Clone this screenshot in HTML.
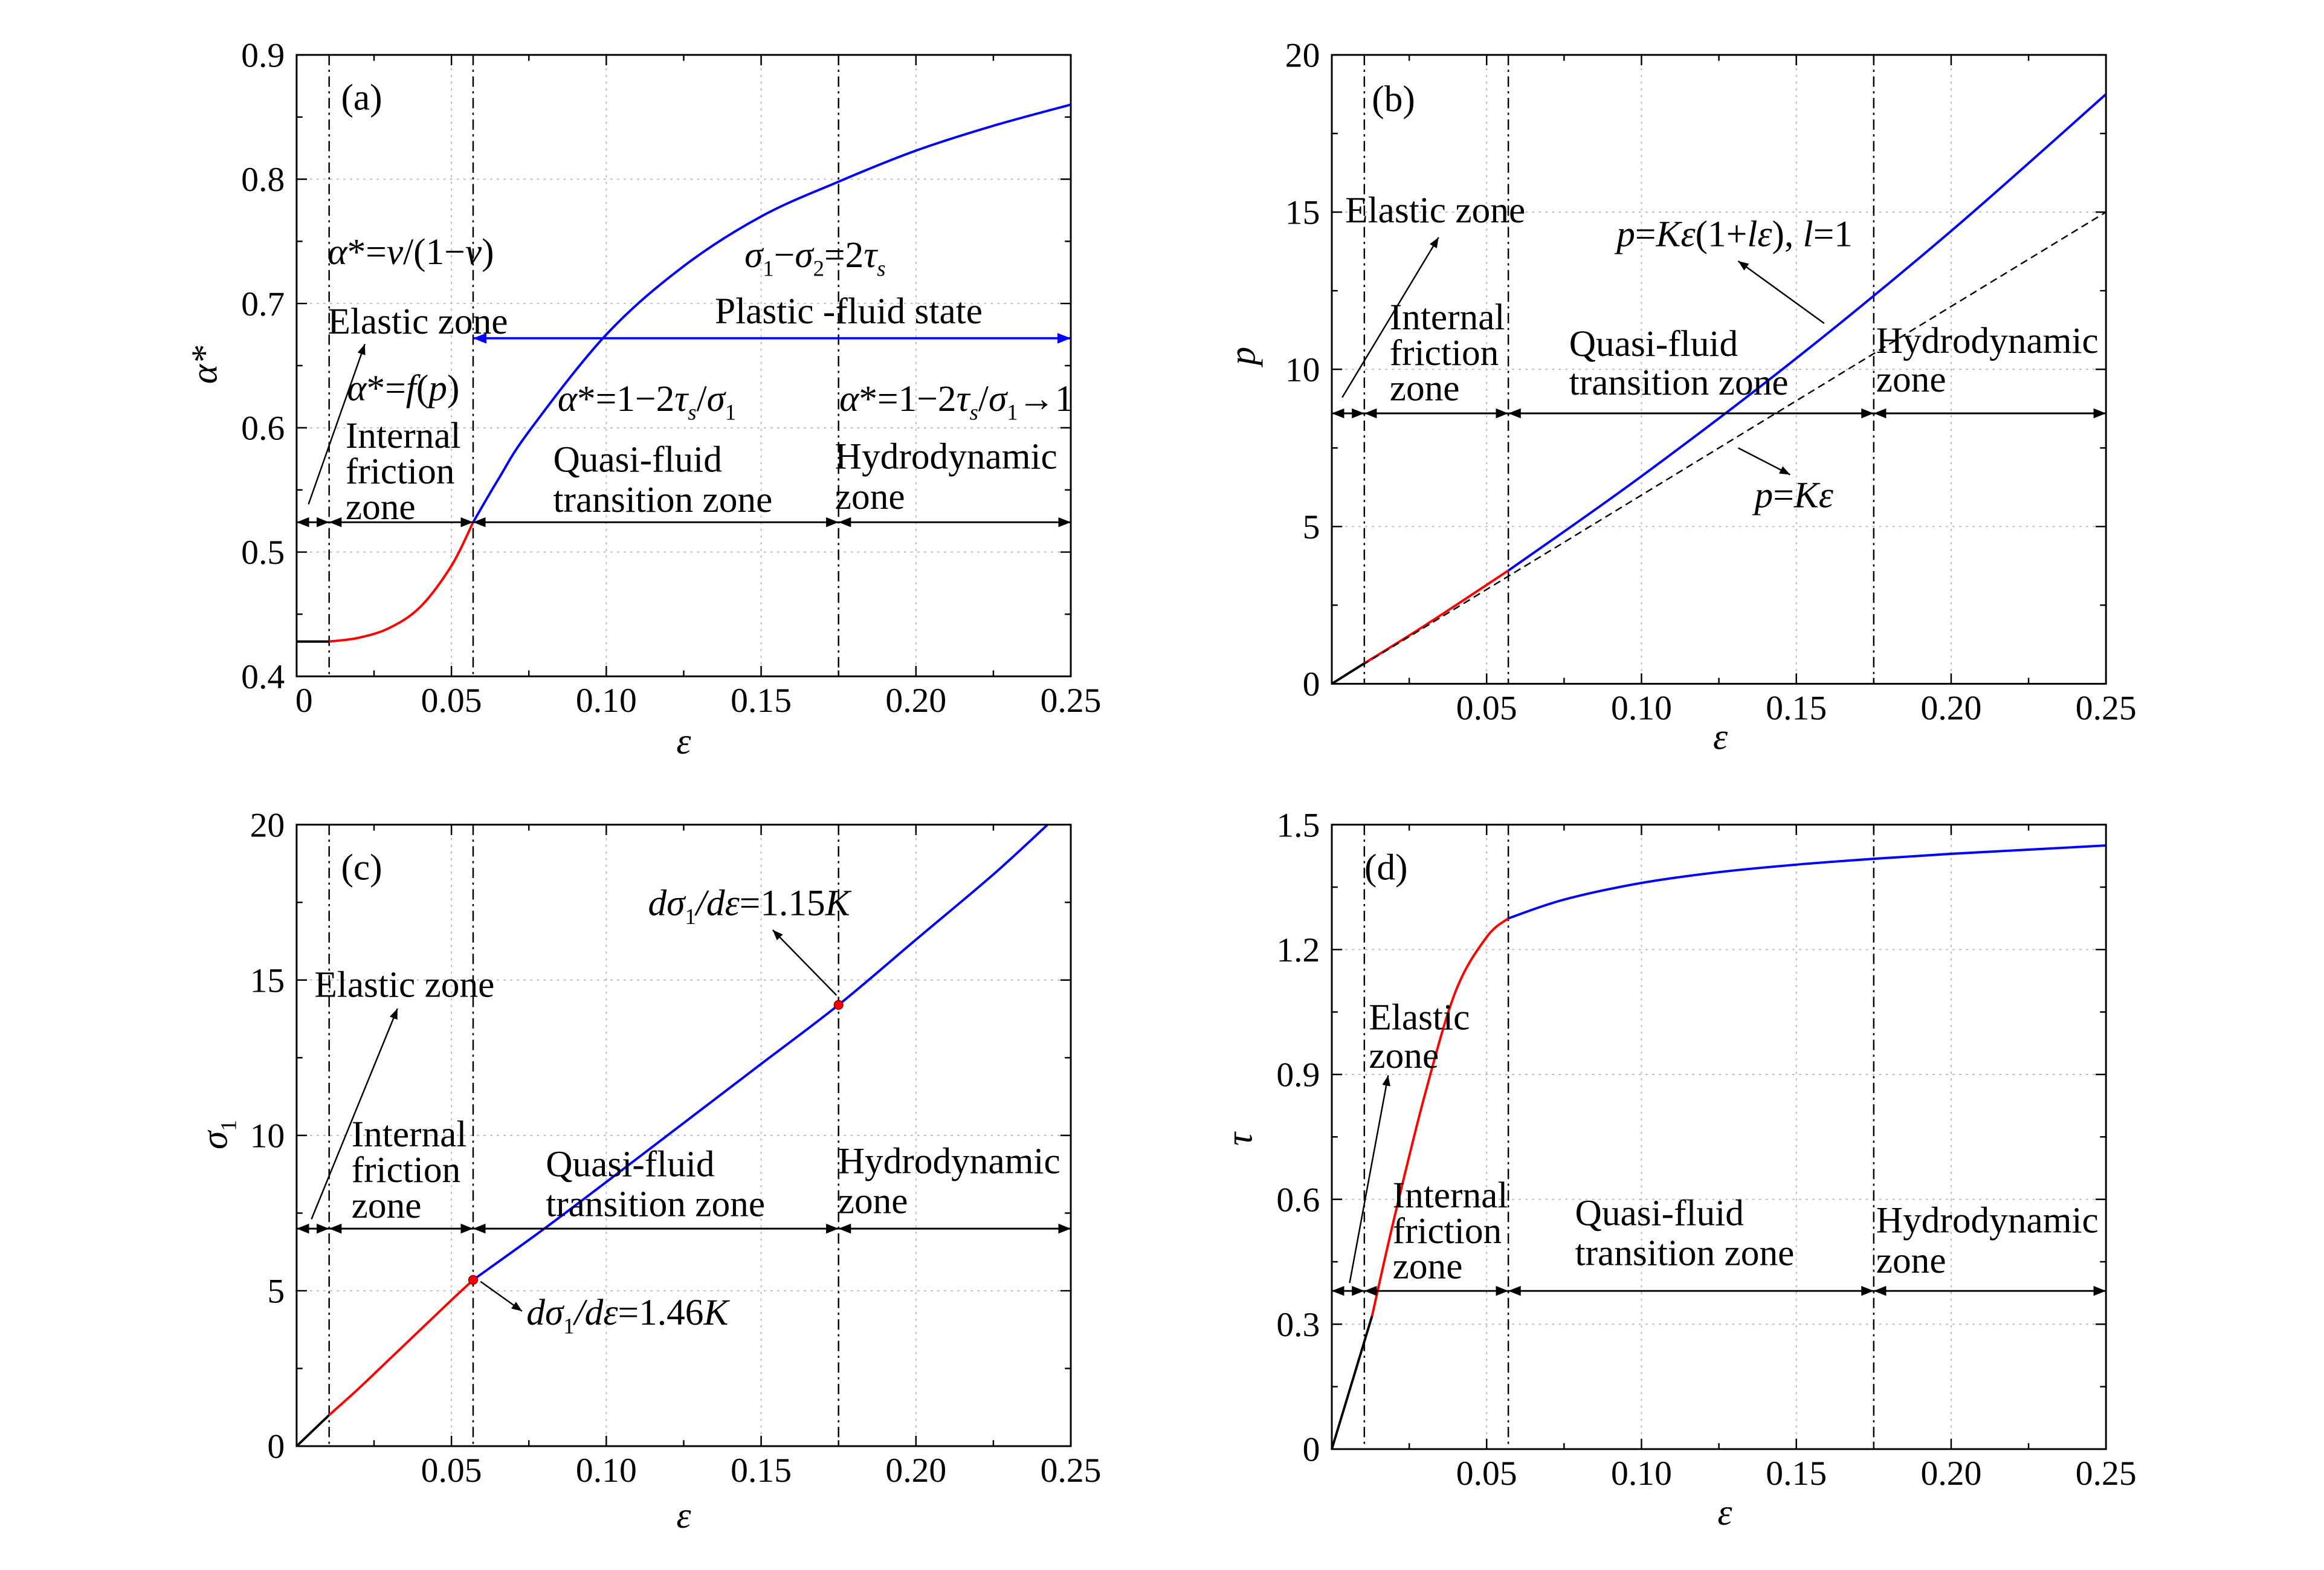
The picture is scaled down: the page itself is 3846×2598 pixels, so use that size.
<!DOCTYPE html>
<html><head><meta charset="utf-8"><style>
html,body{margin:0;padding:0;background:#fff}
svg{display:block}
text{font-family:"Liberation Serif",serif;fill:#000}
.t{font-size:23.5px}
.a{font-size:25px}
.i{font-style:italic}
</style></head><body>
<svg id="fig" width="3846" height="2598" viewBox="0 0 1567 1058.5" xmlns="http://www.w3.org/2000/svg">
<defs>
<marker id="ah" viewBox="0 0 10 10" refX="10" refY="5" markerWidth="7" markerHeight="7" orient="auto-start-reverse"><path d="M0,1 L10,5 L0,9 z" fill="#000"/></marker>
<marker id="ahb" viewBox="0 0 10 10" refX="10" refY="5" markerWidth="6" markerHeight="6" orient="auto-start-reverse"><path d="M0,1 L10,5 L0,9 z" fill="#0000ff"/></marker>
</defs>
<g id="plots"></g>
<g id="ann">
<!-- panel a -->
<text class="a" x="230" y="74">(a)</text>
<text class="a" x="221" y="178"><tspan class="i">α</tspan>*=<tspan class="i">ν</tspan>/(1−<tspan class="i">ν</tspan>)</text>
<text class="a" x="502" y="180"><tspan class="i">σ</tspan><tspan font-size="15" dy="6">1</tspan><tspan dy="-6">−</tspan><tspan class="i">σ</tspan><tspan font-size="15" dy="6">2</tspan><tspan dy="-6">=2</tspan><tspan class="i">τ</tspan><tspan font-size="15" dy="6" class="i">s</tspan></text>
<text class="a" x="221" y="225">Elastic zone</text>
<text class="a" x="482" y="218">Plastic -fluid state</text>
<text class="a" x="234" y="270"><tspan class="i">α</tspan>*=<tspan class="i">f</tspan>(<tspan class="i">p</tspan>)</text>
<text class="a" x="376" y="277"><tspan class="i">α</tspan>*=1−2<tspan class="i">τ</tspan><tspan font-size="15" dy="6" class="i">s</tspan><tspan dy="-6">/</tspan><tspan class="i">σ</tspan><tspan font-size="15" dy="6">1</tspan></text>
<text class="a" x="566" y="277"><tspan class="i">α</tspan>*=1−2<tspan class="i">τ</tspan><tspan font-size="15" dy="6" class="i">s</tspan><tspan dy="-6">/</tspan><tspan class="i">σ</tspan><tspan font-size="15" dy="6">1</tspan><tspan dy="-6">→1</tspan></text>
<text class="a" x="233" y="302">Internal<tspan x="233" dy="24">friction</tspan><tspan x="233" dy="24">zone</tspan></text>
<text class="a" x="373" y="318">Quasi-fluid<tspan x="373" dy="27">transition zone</tspan></text>
<text class="a" x="563" y="316">Hydrodynamic<tspan x="563" dy="27">zone</tspan></text>
<line x1="208" y1="340" x2="246" y2="232" stroke="#000" stroke-width="1" marker-end="url(#ah)"/>
<!-- panel b -->
<text class="a" x="925" y="75">(b)</text>
<text class="a" x="907" y="150">Elastic zone</text>
<text class="a" x="1090" y="166"><tspan class="i">p</tspan>=<tspan class="i">Kε</tspan>(1+<tspan class="i">lε</tspan>), <tspan class="i">l</tspan>=1</text>
<text class="a" x="937" y="222">Internal<tspan x="937" dy="24">friction</tspan><tspan x="937" dy="24">zone</tspan></text>
<text class="a" x="1058" y="240">Quasi-fluid<tspan x="1058" dy="26">transition zone</tspan></text>
<text class="a" x="1265" y="238">Hydrodynamic<tspan x="1265" dy="26">zone</tspan></text>
<text class="a" x="1183" y="342"><tspan class="i">p</tspan>=<tspan class="i">Kε</tspan></text>
<line x1="905" y1="268" x2="970" y2="160" stroke="#000" stroke-width="1" marker-end="url(#ah)"/>
<line x1="1230" y1="218" x2="1172" y2="176" stroke="#000" stroke-width="1" marker-end="url(#ah)"/>
<line x1="1172" y1="302" x2="1207" y2="320" stroke="#000" stroke-width="1" marker-end="url(#ah)"/>
<!-- panel c -->
<text class="a" x="230" y="593">(c)</text>
<text class="a" x="212" y="672">Elastic zone</text>
<text class="a" x="437" y="617"><tspan class="i">dσ</tspan><tspan font-size="15" dy="6">1</tspan><tspan dy="-6" class="i">/dε</tspan>=1.15<tspan class="i">K</tspan></text>
<text class="a" x="237" y="773">Internal<tspan x="237" dy="24">friction</tspan><tspan x="237" dy="24">zone</tspan></text>
<text class="a" x="368" y="793">Quasi-fluid<tspan x="368" dy="27">transition zone</tspan></text>
<text class="a" x="565" y="791">Hydrodynamic<tspan x="565" dy="27">zone</tspan></text>
<text class="a" x="355" y="893"><tspan class="i">dσ</tspan><tspan font-size="15" dy="6">1</tspan><tspan dy="-6" class="i">/dε</tspan>=1.46<tspan class="i">K</tspan></text>
<line x1="210" y1="822" x2="268" y2="680" stroke="#000" stroke-width="1" marker-end="url(#ah)"/>
<line x1="564" y1="671" x2="521" y2="627" stroke="#000" stroke-width="1" marker-end="url(#ah)"/>
<line x1="324" y1="864" x2="352" y2="884" stroke="#000" stroke-width="1" marker-end="url(#ah)"/>
<!-- panel d -->
<text class="a" x="920" y="593">(d)</text>
<text class="a" x="923" y="694">Elastic<tspan x="923" dy="26">zone</tspan></text>
<text class="a" x="939" y="814">Internal<tspan x="939" dy="24">friction</tspan><tspan x="939" dy="24">zone</tspan></text>
<text class="a" x="1062" y="826">Quasi-fluid<tspan x="1062" dy="27">transition zone</tspan></text>
<text class="a" x="1265" y="831">Hydrodynamic<tspan x="1265" dy="27">zone</tspan></text>
<line x1="910" y1="865" x2="936" y2="725" stroke="#000" stroke-width="1" marker-end="url(#ah)"/>
<!-- axis titles -->
<text class="a i" x="461" y="508" text-anchor="middle">ε</text>
<text class="a i" x="1160" y="505" text-anchor="middle">ε</text>
<text class="a i" x="461" y="1030" text-anchor="middle">ε</text>
<text class="a i" x="1163" y="1028" text-anchor="middle">ε</text>
<text class="a i" transform="translate(146,246) rotate(-90)" text-anchor="middle">α*</text>
<text class="a i" transform="translate(846,240) rotate(-90)" text-anchor="middle">p</text>
<text class="a" transform="translate(153,765) rotate(-90)" text-anchor="middle"><tspan class="i">σ</tspan><tspan font-size="15" dy="6">1</tspan></text>
<text class="a i" transform="translate(844,768) rotate(-90)" text-anchor="middle">τ</text>
</g>
</svg>
<script>
// ---- data ----
const zoneBounds = [0.0105, 0.057, 0.175];
const aBlackX = [0, 0.0105], aBlackY = [0.428, 0.428];
const aRedX = [0.0105, 0.02, 0.03, 0.04, 0.05, 0.057];
const aRedY = [0.428, 0.431, 0.439, 0.456, 0.489, 0.524];
const aBlueX = [0.057, 0.065, 0.075, 0.10, 0.125, 0.15, 0.175, 0.20, 0.225, 0.25];
const aBlueY = [0.524, 0.558, 0.597, 0.675, 0.73, 0.77, 0.798, 0.823, 0.843, 0.86];
const bBlackX = [0, 0.0105], bBlackY = [0, 0.65];
const bRedX = [0.0105, 0.03, 0.057], bRedY = [0.65, 1.85, 3.6];
const bBlueX = [0.057, 0.10, 0.15, 0.20, 0.25], bBlueY = [3.6, 6.6, 10.35, 14.4, 18.75];
const bDashX = [0, 0.25], bDashY = [0, 15];
const cBlackX = [0, 0.0105], cBlackY = [0, 1.0];
const cRedX = [0.0105, 0.02, 0.03, 0.04, 0.05, 0.057], cRedY = [1.0, 1.85, 2.8, 3.75, 4.7, 5.35];
const cBlueX = [0.057, 0.08, 0.10, 0.125, 0.15, 0.175, 0.20, 0.225, 0.2425];
const cBlueY = [5.35, 7.0, 8.5, 10.4, 12.3, 14.2, 16.3, 18.4, 20];
const cDotX = [0.057, 0.175], cDotY = [5.35, 14.2];
const dBlackX = [0, 0.013], dBlackY = [0, 0.32];
const dRedX = [0.013, 0.02, 0.03, 0.04, 0.05, 0.057], dRedY = [0.32, 0.55, 0.85, 1.1, 1.23, 1.275];
const dBlueX = [0.057, 0.075, 0.10, 0.125, 0.15, 0.175, 0.20, 0.225, 0.25];
const dBlueY = [1.275, 1.32, 1.36, 1.386, 1.404, 1.418, 1.43, 1.44, 1.45];
const xTicksA = [0, 0.05, 0.10, 0.15, 0.20, 0.25], xLabelsA = ["0","0.05","0.10","0.15","0.20","0.25"];
const xTicksB = [0.05, 0.10, 0.15, 0.20, 0.25], xLabelsB = ["0.05","0.10","0.15","0.20","0.25"];
const yTicksA = [0.4,0.5,0.6,0.7,0.8,0.9], yLabelsA = ["0.4","0.5","0.6","0.7","0.8","0.9"];
const yTicksB = [0,5,10,15,20], yLabelsB = ["0","5","10","15","20"];
const yTicksD = [0,0.3,0.6,0.9,1.2,1.5], yLabelsD = ["0","0.3","0.6","0.9","1.2","1.5"];

const NS = "http://www.w3.org/2000/svg";
const root = document.getElementById("plots");
function mk(tag, at, parent) {
  const e = document.createElementNS(NS, tag);
  for (const k in at) e.setAttribute(k, at[k]);
  (parent || root).appendChild(e);
  return e;
}
function smooth(pts) {
  let d = "M" + pts[0][0].toFixed(2) + "," + pts[0][1].toFixed(2);
  for (let i = 0; i < pts.length - 1; i++) {
    const p0 = pts[i-1] || pts[i], p1 = pts[i], p2 = pts[i+1], p3 = pts[i+2] || p2;
    const c1 = [p1[0] + (p2[0]-p0[0])/6, p1[1] + (p2[1]-p0[1])/6];
    const c2 = [p2[0] - (p3[0]-p1[0])/6, p2[1] - (p3[1]-p1[1])/6];
    d += "C" + c1.map(v=>v.toFixed(2)).join(",") + " " + c2.map(v=>v.toFixed(2)).join(",") + " " + p2[0].toFixed(2) + "," + p2[1].toFixed(2);
  }
  return d;
}
const panels = [
 {id:"a", L:200, R:722, T:37, B:456, ymin:0.4, ymax:0.9, xt:xTicksA, xl:xLabelsA, yt:yTicksA, yl:yLabelsA, arrowY:0.524,
  series:[[aBlackX,aBlackY,"#000"],[aRedX,aRedY,"#ff0000"],[aBlueX,aBlueY,"#0000ff"]]},
 {id:"b", L:898, R:1420, T:37, B:461, ymin:0, ymax:20, xt:xTicksB, xl:xLabelsB, yt:yTicksB, yl:yLabelsB, arrowY:8.6,
  series:[[bBlackX,bBlackY,"#000"],[bRedX,bRedY,"#ff0000"],[bBlueX,bBlueY,"#0000ff"]]},
 {id:"c", L:200, R:722, T:556, B:975, ymin:0, ymax:20, xt:xTicksB, xl:xLabelsB, yt:yTicksB, yl:yLabelsB, arrowY:7.0,
  series:[[cBlackX,cBlackY,"#000"],[cRedX,cRedY,"#ff0000"],[cBlueX,cBlueY,"#0000ff"]]},
 {id:"d", L:898, R:1420, T:556, B:977, ymin:0, ymax:1.5, xt:xTicksB, xl:xLabelsB, yt:yTicksD, yl:yLabelsD, arrowY:0.38,
  series:[[dBlackX,dBlackY,"#000"],[dRedX,dRedY,"#ff0000"],[dBlueX,dBlueY,"#0000ff"]]}
];
panels.forEach(p => {
  const sx = v => p.L + (v / 0.25) * (p.R - p.L);
  const sy = v => p.B - (v - p.ymin) / (p.ymax - p.ymin) * (p.B - p.T);
  const g = mk("g", {});
  
  
  const ystep = p.yt[1] - p.yt[0];
  p.xt.forEach(v => { if (v>0 && v<0.25) mk("line",{x1:sx(v),x2:sx(v),y1:p.T,y2:p.B,stroke:"#bbb","stroke-width":0.8,"stroke-dasharray":"1.5 3"},g); });
  p.yt.forEach(v => { if (v>p.ymin && v<p.ymax) mk("line",{x1:p.L,x2:p.R,y1:sy(v),y2:sy(v),stroke:"#bbb","stroke-width":0.8,"stroke-dasharray":"1.5 3"},g); });
  zoneBounds.forEach(v => {
    const z = mk("line",{x1:sx(v),x2:sx(v),y1:p.T,y2:p.B,stroke:"#000","stroke-width":1,"stroke-dasharray":"7 3 1.5 3"},g);
    
    
  });
  p.series.forEach(s => {
    const pts = s[0].map((x,i)=>[sx(x), sy(s[1][i])]);
    const e = mk("path",{d:smooth(pts),fill:"none",stroke:s[2],"stroke-width":1.6},g);
    
    
  });
  if (p.id==="b") {
    const d = bDashX.map((x,i)=>(i?"L":"M")+sx(x)+","+sy(bDashY[i])).join("");
    const e = mk("path",{d:d,fill:"none",stroke:"#000","stroke-width":1,"stroke-dasharray":"5 3"},g);
    
    
  }
  if (p.id==="c") {
    cDotX.forEach((x,i)=>{
      const e = mk("circle",{cx:sx(x),cy:sy(cDotY[i]),r:3,fill:"#ff0000",stroke:"#800","stroke-width":0.6},g);
      
      
    });
  }
  const edges = [0].concat(zoneBounds).concat([0.25]);
  const ay = sy(p.arrowY);
  for (let i=0;i<edges.length-1;i++){
    const e = mk("line",{x1:sx(edges[i]),x2:sx(edges[i+1]),y1:ay,y2:ay,stroke:"#000","stroke-width":1.2,"marker-start":"url(#ah)","marker-end":"url(#ah)"},g);
    
    
  }
  if (p.id==="a") {
    const e = mk("line",{x1:sx(zoneBounds[1]),x2:sx(0.25),y1:sy(0.672),y2:sy(0.672),stroke:"#0000ff","stroke-width":1.5,"marker-start":"url(#ahb)","marker-end":"url(#ahb)"},g);
    
    
  }
  const f = mk("rect",{x:p.L,y:p.T,width:p.R-p.L,height:p.B-p.T,fill:"none",stroke:"#000","stroke-width":1.2},g);
  
  
  for (let k=0;k<10;k++){ const v=0.025+0.05*k; if (v<0.25){
    mk("line",{x1:sx(v),x2:sx(v),y1:p.B,y2:p.B-4,stroke:"#000","stroke-width":1},g);
    mk("line",{x1:sx(v),x2:sx(v),y1:p.T,y2:p.T+4,stroke:"#000","stroke-width":1},g); } }
  for (let k=0;k<p.yt.length-1;k++){ const v=p.yt[k]+ystep/2;
    mk("line",{x1:p.L,x2:p.L+4,y1:sy(v),y2:sy(v),stroke:"#000","stroke-width":1},g);
    mk("line",{x1:p.R,x2:p.R-4,y1:sy(v),y2:sy(v),stroke:"#000","stroke-width":1},g); }
  p.xt.forEach((v,i)=>{
    mk("line",{x1:sx(v),x2:sx(v),y1:p.B,y2:p.B-7,stroke:"#000","stroke-width":1},g);
    mk("line",{x1:sx(v),x2:sx(v),y1:p.T,y2:p.T+7,stroke:"#000","stroke-width":1},g);
    const t = mk("text",{x:sx(v)+(v===0?5:0),y:p.B+24,"text-anchor":"middle","class":"t"},g);
    t.textContent = p.xl[i];
    
    
  });
  p.yt.forEach((v,i)=>{
    mk("line",{x1:p.L,x2:p.L+7,y1:sy(v),y2:sy(v),stroke:"#000","stroke-width":1},g);
    mk("line",{x1:p.R,x2:p.R-7,y1:sy(v),y2:sy(v),stroke:"#000","stroke-width":1},g);
    const t = mk("text",{x:p.L-8,y:sy(v)+8,"text-anchor":"end","class":"t"},g);
    t.textContent = p.yl[i];
    
    
  });
});
</script>
</body></html>
